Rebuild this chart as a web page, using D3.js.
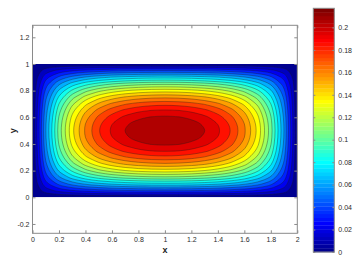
<!DOCTYPE html>
<html lang="en">
<head>
<meta charset="UTF-8" />
<title>Filled contour</title>
<style>
  html, body { margin: 0; padding: 0; background: #fff; }
  svg text { font-family: "Liberation Sans", Arial, sans-serif; }
</style>
</head>
<body>
<svg id="chart" width="363" height="260"></svg>
<script src="https://d3js.org/d3.v7.min.js"></script>
<script>
  // grid of the field, rows go from y = 0 (bottom) to y = 1 (top)
  const xs = [0, 0.1, 0.2, 0.3, 0.4, 0.5, 0.6, 0.7, 0.8, 0.9, 1, 1.1, 1.2, 1.3, 1.4, 1.5, 1.6, 1.7, 1.8, 1.9, 2];
  const ys = [0, 0.05, 0.1, 0.15, 0.2, 0.25, 0.3, 0.35, 0.4, 0.45, 0.5, 0.55, 0.6, 0.65, 0.7, 0.75, 0.8, 0.85, 0.9, 0.95, 1];
  const field = [
    [0, 0, 0, 0, 0, 0, 0, 0, 0, 0, 0, 0, 0, 0, 0, 0, 0, 0, 0, 0, 0],
    [0, .01513, .02396, .02987, .03399, .03690, .03895, .04036, .04127, .04178, .04195, .04178, .04127, .04036, .03895, .03690, .03399, .02987, .02396, .01513, 0],
    [0, .02683, .04383, .05540, .06351, .06926, .07330, .07607, .07787, .07889, .07922, .07889, .07787, .07607, .07330, .06926, .06351, .05540, .04383, .02683, 0],
    [0, .03608, .06025, .07702, .08886, .09726, .10319, .10726, .10991, .11140, .11188, .11140, .10991, .10726, .10319, .09726, .08886, .07702, .06025, .03608, 0],
    [0, .04345, .07371, .09507, .11028, .12112, .12877, .13404, .13746, .13939, .14001, .13939, .13746, .13404, .12877, .12112, .11028, .09507, .07371, .04345, 0],
    [0, .04931, .08458, .10987, .12801, .14100, .15018, .15651, .16063, .16294, .16369, .16294, .16063, .15651, .15018, .14100, .12801, .10987, .08458, .04931, 0],
    [0, .05387, .09316, .12166, .14226, .15705, .16753, .17476, .17947, .18212, .18297, .18212, .17947, .17476, .16753, .15705, .14226, .12166, .09316, .05387, 0],
    [0, .05730, .09965, .13065, .15317, .16940, .18092, .18888, .19406, .19697, .19791, .19697, .19406, .18888, .18092, .16940, .15317, .13065, .09965, .05730, 0],
    [0, .05969, .10419, .13697, .16088, .17815, .19043, .19891, .20443, .20754, .20855, .20754, .20443, .19891, .19043, .17815, .16088, .13697, .10419, .05969, 0],
    [0, .06110, .10688, .14072, .16547, .18337, .19611, .20492, .21065, .21388, .21492, .21388, .21065, .20492, .19611, .18337, .16547, .14072, .10688, .06110, 0],
    [0, .06157, .10777, .14197, .16699, .18511, .19800, .20691, .21272, .21598, .21704, .21598, .21272, .20691, .19800, .18511, .16699, .14197, .10777, .06157, 0],
    [0, .06110, .10688, .14072, .16547, .18337, .19611, .20492, .21065, .21388, .21492, .21388, .21065, .20492, .19611, .18337, .16547, .14072, .10688, .06110, 0],
    [0, .05969, .10419, .13697, .16088, .17815, .19043, .19891, .20443, .20754, .20855, .20754, .20443, .19891, .19043, .17815, .16088, .13697, .10419, .05969, 0],
    [0, .05730, .09965, .13065, .15317, .16940, .18092, .18888, .19406, .19697, .19791, .19697, .19406, .18888, .18092, .16940, .15317, .13065, .09965, .05730, 0],
    [0, .05387, .09316, .12166, .14226, .15705, .16753, .17476, .17947, .18212, .18297, .18212, .17947, .17476, .16753, .15705, .14226, .12166, .09316, .05387, 0],
    [0, .04931, .08458, .10987, .12801, .14100, .15018, .15651, .16063, .16294, .16369, .16294, .16063, .15651, .15018, .14100, .12801, .10987, .08458, .04931, 0],
    [0, .04345, .07371, .09507, .11028, .12112, .12877, .13404, .13746, .13939, .14001, .13939, .13746, .13404, .12877, .12112, .11028, .09507, .07371, .04345, 0],
    [0, .03608, .06025, .07702, .08886, .09726, .10319, .10726, .10991, .11140, .11188, .11140, .10991, .10726, .10319, .09726, .08886, .07702, .06025, .03608, 0],
    [0, .02683, .04383, .05540, .06351, .06926, .07330, .07607, .07787, .07889, .07922, .07889, .07787, .07607, .07330, .06926, .06351, .05540, .04383, .02683, 0],
    [0, .01513, .02396, .02987, .03399, .03690, .03895, .04036, .04127, .04178, .04195, .04178, .04127, .04036, .03895, .03690, .03399, .02987, .02396, .01513, 0],
    [0, 0, 0, 0, 0, 0, 0, 0, 0, 0, 0, 0, 0, 0, 0, 0, 0, 0, 0, 0, 0]
  ];
  const nLevels = 20;

  const xTicks = [0, 0.2, 0.4, 0.6, 0.8, 1, 1.2, 1.4, 1.6, 1.8, 2];
  const yTicks = [-0.2, 0, 0.2, 0.4, 0.6, 0.8, 1, 1.2];
  const cbTicks = [0, 0.02, 0.04, 0.06, 0.08, 0.1, 0.12, 0.14, 0.16, 0.18, 0.2];

  const svg = d3.select("#chart");
  const plot = { left: 32.5, right: 297.3, top: 25.3, bottom: 233.3 };
  const bar = { left: 313.3, right: 334.3, top: 8.3, bottom: 252 };

  const x = d3.scaleLinear().domain([0, 2]).range([plot.left, plot.right]);
  const y = d3.scaleLinear().domain([-0.27, 1.29]).range([plot.bottom, plot.top]);

  const zmin = d3.min(field.flat());
  const zmax = d3.max(field.flat());
  const levels = d3.range(1, nLevels + 1).map(k => zmin + k * (zmax - zmin) / (nLevels + 1));

  // jet colormap, 64 entries like the original figure
  const jetScale = d3.scaleLinear()
    .domain([0, 7 / 63, 23 / 63, 39 / 63, 55 / 63, 1])
    .range(["#00008f", "#0000ff", "#00ffff", "#ffff00", "#ff0000", "#800000"])
    .interpolate(d3.interpolateRgb);
  function jet(v) {
    const t = (v - zmin) / (zmax - zmin);
    const i = Math.max(0, Math.min(63, Math.floor(t * 64)));
    return jetScale(i / 63);
  }

  // clip for the field area
  svg.append("clipPath").attr("id", "fieldClip")
    .append("rect")
    .attr("x", x(xs[0])).attr("y", y(ys[ys.length - 1]))
    .attr("width", x(xs[xs.length - 1]) - x(xs[0]))
    .attr("height", y(ys[0]) - y(ys[ys.length - 1]));

  const fieldG = svg.append("g").attr("clip-path", "url(#fieldClip)");

  fieldG.append("rect")
    .attr("x", x(xs[0])).attr("y", y(ys[ys.length - 1]))
    .attr("width", x(xs[xs.length - 1]) - x(xs[0]))
    .attr("height", y(ys[0]) - y(ys[ys.length - 1]))
    .attr("fill", jet(zmin));

  const contours = d3.contours()
    .size([xs.length, ys.length])
    .thresholds(levels)(field.flat());

  const gx = d3.scaleLinear().domain([0.5, xs.length - 0.5]).range([xs[0], xs[xs.length - 1]]);
  const gy = d3.scaleLinear().domain([0.5, ys.length - 0.5]).range([ys[0], ys[ys.length - 1]]);

  // merge marching-squares vertices that sit almost on top of each other,
  // otherwise the smoothed ring gets sharp tips
  function mergeClose(pts, tol) {
    const out = [];
    let cluster = [pts[0]];
    for (let i = 1; i < pts.length; i++) {
      const last = cluster[cluster.length - 1];
      if (Math.hypot(pts[i][0] - last[0], pts[i][1] - last[1]) < tol) {
        cluster.push(pts[i]);
      } else {
        out.push([d3.mean(cluster, p => p[0]), d3.mean(cluster, p => p[1])]);
        cluster = [pts[i]];
      }
    }
    out.push([d3.mean(cluster, p => p[0]), d3.mean(cluster, p => p[1])]);
    if (out.length > 2) {
      const a = out[0], b = out[out.length - 1];
      if (Math.hypot(a[0] - b[0], a[1] - b[1]) < tol) {
        out[0] = [(a[0] + b[0]) / 2, (a[1] + b[1]) / 2];
        out.pop();
      }
    }
    return out;
  }

  const ringLine = d3.line().curve(d3.curveCatmullRomClosed.alpha(0.5));
  const contourPath = c => c.coordinates
    .map(poly => poly.map(ring => {
      const pts = ring.slice(0, -1).map(p => [x(gx(p[0])), y(gy(p[1]))]);
      return ringLine(mergeClose(pts, 2.5));
    }).join(""))
    .join("");

  fieldG.selectAll("path.band")
    .data(contours.filter(c => c.coordinates.length))
    .join("path")
    .attr("class", "band")
    .attr("d", contourPath)
    .attr("fill", d => jet(d.value))
    .attr("stroke", "#1a1a1a")
    .attr("stroke-opacity", 0.5)
    .attr("stroke-width", 0.7);

  // axes frame and ticks
  const tickColor = "#8a8a8a";
  function styleAxis(g, labels) {
    g.select(".domain").remove();
    g.selectAll(".tick line").attr("stroke", tickColor);
    g.selectAll(".tick text")
      .attr("fill", labels ? "#2a2a2a" : "none")
      .attr("font-size", 7)
      .attr("font-family", "Liberation Sans, Arial, sans-serif");
  }

  svg.append("g")
    .attr("transform", `translate(0,${plot.bottom})`)
    .call(d3.axisBottom(x).tickValues(xTicks).tickSize(-3).tickPadding(4).tickFormat(d => String(d)))
    .call(g => styleAxis(g, true));
  svg.append("g")
    .attr("transform", `translate(0,${plot.top})`)
    .call(d3.axisTop(x).tickValues(xTicks).tickSize(-3).tickFormat(""))
    .call(g => styleAxis(g, false));
  svg.append("g")
    .attr("transform", `translate(${plot.left},0)`)
    .call(d3.axisLeft(y).tickValues(yTicks).tickSize(-3).tickPadding(3).tickFormat(d => String(d)))
    .call(g => styleAxis(g, true));
  svg.append("g")
    .attr("transform", `translate(${plot.right},0)`)
    .call(d3.axisRight(y).tickValues(yTicks).tickSize(-3).tickFormat(""))
    .call(g => styleAxis(g, false));

  svg.append("rect")
    .attr("x", plot.left).attr("y", plot.top)
    .attr("width", plot.right - plot.left).attr("height", plot.bottom - plot.top)
    .attr("fill", "none").attr("stroke", tickColor).attr("stroke-width", 1);

  svg.append("text")
    .attr("x", (plot.left + plot.right) / 2).attr("y", 252.5)
    .attr("text-anchor", "middle")
    .attr("font-size", 9).attr("font-weight", "bold").attr("fill", "#222")
    .text("x");
  svg.append("text")
    .attr("transform", `translate(16,${(y(0) + y(1)) / 2}) rotate(-90)`)
    .attr("text-anchor", "middle")
    .attr("font-size", 9).attr("font-weight", "bold").attr("fill", "#222")
    .text("y");

  // colorbar
  const cb = d3.scaleLinear().domain([zmin, zmax]).range([bar.bottom, bar.top]);
  const steps = d3.range(64);
  svg.append("g").selectAll("rect")
    .data(steps)
    .join("rect")
    .attr("x", bar.left)
    .attr("width", bar.right - bar.left)
    .attr("y", i => cb(zmin + (i + 1) * (zmax - zmin) / 64))
    .attr("height", i => cb(zmin + i * (zmax - zmin) / 64) - cb(zmin + (i + 1) * (zmax - zmin) / 64) + 0.3)
    .attr("fill", i => jetScale(i / 63));

  svg.append("g")
    .attr("transform", `translate(${bar.right},0)`)
    .call(d3.axisRight(cb).tickValues(cbTicks).tickSize(-2).tickPadding(4).tickFormat(d => String(d)))
    .call(g => styleAxis(g, true));
  svg.append("g")
    .attr("transform", `translate(${bar.left},0)`)
    .call(d3.axisLeft(cb).tickValues(cbTicks).tickSize(-2).tickFormat(""))
    .call(g => styleAxis(g, false));

  svg.append("rect")
    .attr("x", bar.left).attr("y", bar.top)
    .attr("width", bar.right - bar.left).attr("height", bar.bottom - bar.top)
    .attr("fill", "none").attr("stroke", tickColor).attr("stroke-width", 1);
</script>
</body>
</html>
